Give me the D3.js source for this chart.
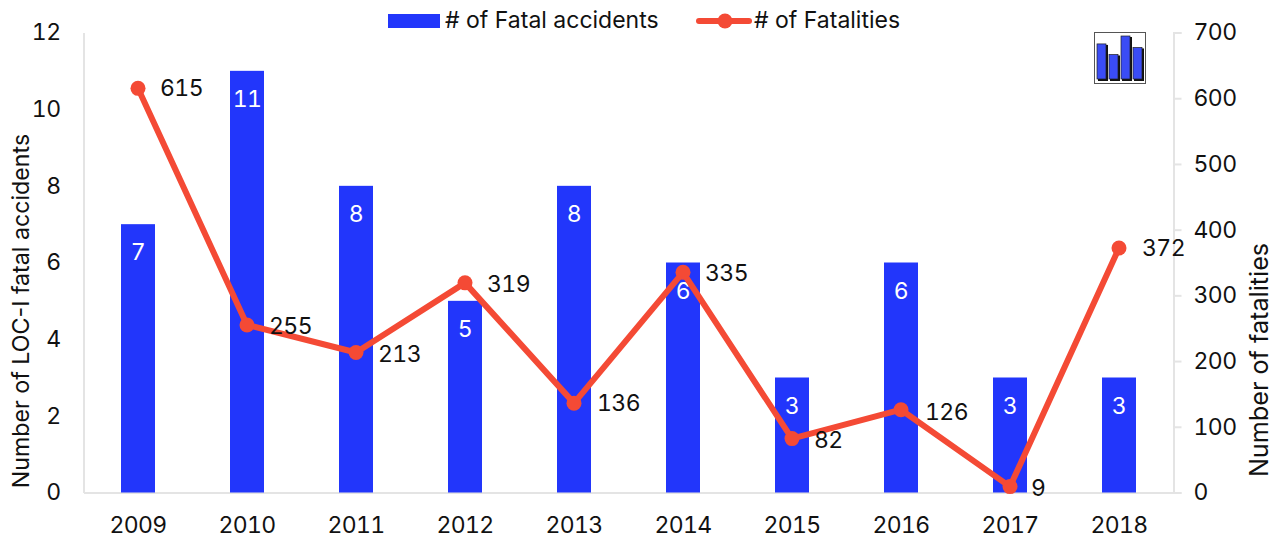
<!DOCTYPE html>
<html>
<head>
<meta charset="utf-8">
<script src="https://cdn.jsdelivr.net/npm/d3@7"></script>
<style>
  html, body { margin: 0; padding: 0; background: #fff; }
  svg { display: block; }
  text { font-family: Inter, "Noto Sans", sans-serif; fill: #111; }
  .num, .num text { font-variant-numeric: tabular-nums; font-feature-settings: "tnum" 1; letter-spacing: -0.6px; }
</style>
</head>
<body>
<div id="chart"></div>
<script>
var years = ["2009", "2010", "2011", "2012", "2013", "2014", "2015", "2016", "2017", "2018"];
var accidents = [7, 11, 8, 5, 8, 6, 3, 6, 3, 3];
var fatalities = [615, 255, 213, 319, 136, 335, 82, 126, 9, 372];
// label offset per point, the labels sit by hand in the original
var labelDx = [22, 22, 22, 22, 23, 22, 22, 24, 21, 23];
var labelDy = [0, 1, 1, 1, 0, 1, 1, 2, 1, 0];
var leftTicks = [0, 2, 4, 6, 8, 10, 12];
var rightTicks = [0, 100, 200, 300, 400, 500, 600, 700];
var iconBars = [4.1, 2.9, 5, 3.7];

var width = 1278, height = 538;
var margin = { top: 32.5, right: 104.5, bottom: 45.5, left: 83.5 };
var innerW = width - margin.left - margin.right,
  innerH = height - margin.top - margin.bottom;

var blue = "#2236fb", red = "#f44a35", axisGrey = "#e4e4e4";

var svg = d3.select("#chart").append("svg").attr("width", width).attr("height", height);
var g = svg.append("g").attr("transform", "translate(" + margin.left + "," + margin.top + ")");

var x = d3.scaleBand().domain(years).range([0, innerW]);
var yL = d3.scaleLinear().domain([0, 12]).range([innerH, 0]);
var yR = d3.scaleLinear().domain([0, 700]).range([innerH, 0]);
var barW = 34;
var cx = function (i) { return x(years[i]) + x.bandwidth() / 2; };

// axes
var leftAxis = g.append("g").attr("class", "num").call(d3.axisLeft(yL).tickValues(leftTicks).tickSize(0).tickPadding(23));
var rightAxis = g.append("g").attr("class", "num").attr("transform", "translate(" + innerW + ",0)")
  .call(d3.axisRight(yR).tickValues(rightTicks).tickSize(8).tickPadding(12));
var bottomAxis = g.append("g").attr("class", "num").attr("transform", "translate(0," + innerH + ")")
  .call(d3.axisBottom(x).tickSize(0).tickPadding(24));

[leftAxis, rightAxis, bottomAxis].forEach(function (a) {
  a.selectAll(".domain").attr("stroke", axisGrey).attr("stroke-width", 2);
  a.selectAll("line").attr("stroke", axisGrey).attr("stroke-width", 2);
  a.selectAll("text").style("font-size", "23px").attr("font-family", null);
});

// bars
g.selectAll(".bar").data(accidents).enter().append("rect")
  .attr("class", "bar")
  .attr("x", function (d, i) { return cx(i) - barW / 2; })
  .attr("y", function (d) { return yL(d); })
  .attr("width", barW)
  .attr("height", function (d) { return innerH - yL(d); })
  .attr("fill", blue);

g.selectAll(".barLabel").data(accidents).enter().append("text")
  .attr("class", "barLabel num")
  .attr("x", function (d, i) { return cx(i); })
  .attr("y", function (d) { return yL(d) + 28; })
  .attr("dy", "0.35em")
  .attr("text-anchor", "middle")
  .style("font-size", "23px")
  .style("fill", "#fff")
  .text(function (d) { return d; });

// line
var line = d3.line().x(function (d, i) { return cx(i); }).y(function (d) { return yR(d); });
g.append("path").datum(fatalities)
  .attr("d", line)
  .attr("fill", "none")
  .attr("stroke", red)
  .attr("stroke-width", 6)
  .attr("stroke-linejoin", "round")
  .attr("stroke-linecap", "round");

g.selectAll(".dot").data(fatalities).enter().append("circle")
  .attr("class", "dot")
  .attr("cx", function (d, i) { return cx(i); })
  .attr("cy", function (d) { return yR(d); })
  .attr("r", 7.5)
  .attr("fill", red);

g.selectAll(".lineLabel").data(fatalities).enter().append("text")
  .attr("class", "lineLabel num")
  .attr("x", function (d, i) { return cx(i) + labelDx[i]; })
  .attr("y", function (d, i) { return yR(d) + labelDy[i]; })
  .attr("dy", "0.35em")
  .style("font-size", "23px")
  .text(function (d) { return d; });

// axis titles
svg.append("text")
  .attr("transform", "translate(21,311) rotate(-90)")
  .attr("text-anchor", "middle")
  .attr("dy", "0.35em")
  .style("font-size", "23.2px")
  .text("Number of LOC-I fatal accidents");
svg.append("text")
  .attr("transform", "translate(1259,360) rotate(-90)")
  .attr("text-anchor", "middle")
  .attr("dy", "0.35em")
  .style("font-size", "25.2px")
  .text("Number of fatalities");

// legend
var legend = svg.append("g");
legend.append("rect").attr("x", 388).attr("y", 14).attr("width", 52).attr("height", 14).attr("fill", blue);
legend.append("text").attr("x", 445).attr("y", 20).attr("dy", "0.35em").style("font-size", "23px").text("# of Fatal accidents");
legend.append("line").attr("x1", 681).attr("x2", 731).attr("y1", 21).attr("y2", 21)
  .attr("stroke", red).attr("stroke-width", 6).attr("stroke-linecap", "round")
  .attr("transform", "translate(18,0)");
legend.append("circle").attr("cx", 707).attr("cy", 21).attr("r", 7.5).attr("fill", red)
  .attr("transform", "translate(18,0)");
legend.append("text").attr("x", 754).attr("y", 20).attr("dy", "0.35em").style("font-size", "23px").text("# of Fatalities");

// small chart icon in the top right corner
var icon = svg.append("g").attr("transform", "translate(1094,32)");
icon.append("rect").attr("x", 0.5).attr("y", 0.5).attr("width", 51).attr("height", 51)
  .attr("fill", "#fff").attr("stroke", "#555").attr("stroke-width", 1);
var iconY = d3.scaleLinear().domain([0, 5]).range([48, 4]);
icon.selectAll(".shade").data(iconBars).enter().append("rect")
  .attr("class", "shade")
  .attr("x", function (d, i) { return 4 + i * 12; })
  .attr("y", function (d) { return iconY(d) + 1; })
  .attr("width", 10).attr("height", function (d) { return 48 - iconY(d); })
  .attr("fill", "#111");
icon.selectAll(".ib").data(iconBars).enter().append("rect")
  .attr("class", "ib")
  .attr("x", function (d, i) { return 3 + i * 12; })
  .attr("y", function (d) { return iconY(d); })
  .attr("width", 9).attr("height", function (d) { return 47 - iconY(d); })
  .attr("fill", "#3a4cf5").attr("stroke", "#222").attr("stroke-width", 0.7);
</script>
</body>
</html>
